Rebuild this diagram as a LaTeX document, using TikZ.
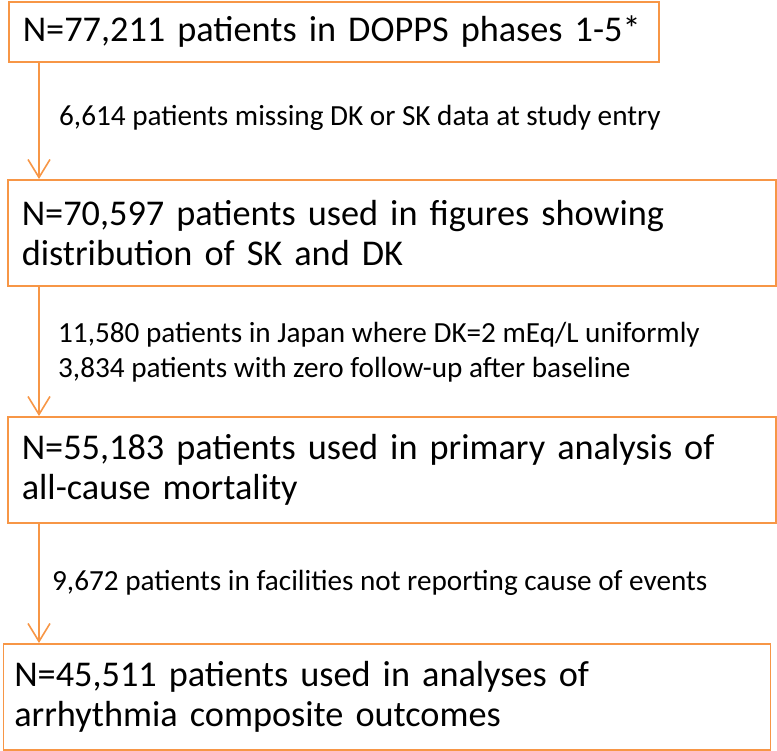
\documentclass[tikz,border=0pt]{standalone}
\usepackage{fontspec}
\setmainfont{Carlito}
\usetikzlibrary{arrows.meta,positioning}
\definecolor{flowor}{HTML}{F79646}
\tikzset{
    % --- Stage box (patients kept) ---
    stage/.style = {
        rectangle, draw=flowor, line width=1.6bp,
        anchor=north west, inner xsep=14bp, inner ysep=0pt,
        align=left, font=\fontsize{36.4}{40}\selectfont
    },
    % --- Exclusion note beside an arrow ---
    excl/.style = {
        anchor=base west, inner sep=0pt,
        align=left, font=\fontsize{29.3}{35}\selectfont
    },
    % --- Flow arrow ---
    flow/.style = {
        draw=flowor, line width=1.6bp,
        -{Straight Barb[length=18bp,width=22bp]}
    }
}

\begin{document}
\begin{tikzpicture}[x=1bp, y=-1bp]
\useasboundingbox (0,0) rectangle (777,751);

% ---------------------------------------------------------
% Stages
% ---------------------------------------------------------
\node[stage, text width=622bp, minimum height=60bp] (N1) at (8,1)
    {N=77,211 patients in DOPPS phases 1-5*};
\node[stage, text width=740bp, minimum height=106bp] (N2) at (7,179)
    {N=70,597 patients used in figures showing\\distribution of SK and DK};
\node[stage, text width=740bp, minimum height=106bp] (N3) at (7,416)
    {N=55,183 patients used in primary analysis of\\all-cause mortality};
\node[stage, text width=745bp, minimum height=106bp, inner xsep=11bp] (N4) at (2.5,643)
    {N=45,511 patients used in analyses of\\arrhythmia composite outcomes};

% ---------------------------------------------------------
% Arrows
% ---------------------------------------------------------
\draw[flow] ([xshift=31bp]N1.south west) -- ([xshift=32bp]N2.north west);
\draw[flow] ([xshift=32bp]N2.south west) -- ([xshift=32bp]N3.north west);
\draw[flow] ([xshift=32bp]N3.south west) -- ([xshift=36.5bp]N4.north west);

% ---------------------------------------------------------
% Exclusions
% ---------------------------------------------------------
\node[excl] (E1) at (59,125) {6,614 patients missing DK or SK data at study entry};
\node[excl] (E2) at (58,377) {11,580 patients in Japan where DK=2 mEq/L uniformly\\3,834 patients with zero follow-up after baseline};
\node[excl] (E3) at (52,590) {9,672 patients in facilities not reporting cause of events};

\end{tikzpicture}
\end{document}
